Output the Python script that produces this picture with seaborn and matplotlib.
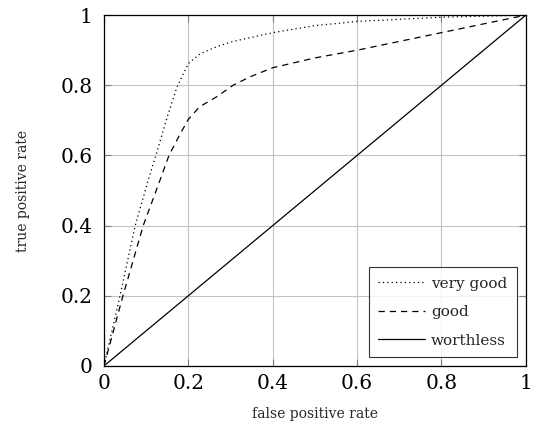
import matplotlib
matplotlib.use("Agg")
import matplotlib.pyplot as plt
import seaborn as sns
import pandas as pd

sns.set_theme(style="white")
plt.rcParams['font.family'] = ['DejaVu Serif']

vg_fpr = [0, 0.038, 0.074, 0.105, 0.123, 0.15, 0.173, 0.2, 0.227, 0.267, 0.306, 0.4, 0.5, 0.6, 0.8, 1.0]
vg_tpr = [0, 0.2, 0.4, 0.53, 0.6, 0.71, 0.795, 0.862, 0.889, 0.91, 0.925, 0.95, 0.97, 0.982, 0.994, 1.0]
good_fpr = [0, 0.045, 0.093, 0.133, 0.154, 0.18, 0.2, 0.227, 0.267, 0.306, 0.346, 0.4, 0.5, 0.6, 0.8, 1.0]
good_tpr = [0, 0.2, 0.4, 0.53, 0.6, 0.66, 0.703, 0.739, 0.767, 0.8, 0.824, 0.85, 0.878, 0.9, 0.95, 1.0]
worth_fpr = [0, 1.0]
worth_tpr = [0, 1.0]
ticks = [0, 0.2, 0.4, 0.6, 0.8, 1]
tick_labels = ["0", "0.2", "0.4", "0.6", "0.8", "1"]

fig = plt.figure(figsize=(5.36, 4.32), dpi=100)
ax = fig.add_axes([0.194, 0.153, 0.787, 0.812])

sns.lineplot(x=vg_fpr, y=vg_tpr, ax=ax, color="black", lw=0.9, linestyle=(0, (1, 2.5)),
             label="very good", sort=False, estimator=None)
sns.lineplot(x=good_fpr, y=good_tpr, ax=ax, color="black", lw=0.9, linestyle=(0, (5, 4)),
             label="good", sort=False, estimator=None)
sns.lineplot(x=worth_fpr, y=worth_tpr, ax=ax, color="black", lw=0.9, linestyle="-",
             label="worthless", sort=False, estimator=None)

ax.set_xlim(0, 1)
ax.set_ylim(0, 1)
ax.set_xticks(ticks)
ax.set_yticks(ticks)
ax.set_xticklabels(tick_labels, fontsize=14.5, color="black")
ax.set_yticklabels(tick_labels, fontsize=14.5, color="black")
ax.grid(True, color="#c4c4c4", lw=0.8)
ax.set_axisbelow(True)
ax.tick_params(axis="both", which="both", direction="in", length=5, width=0.8,
               color="#808080", top=True, right=True, bottom=True, left=True)
ax.tick_params(axis="x", pad=6)
ax.tick_params(axis="y", pad=8)
for s in ax.spines.values():
    s.set_color("black")
    s.set_linewidth(0.9)
ax.set_xlabel("false positive rate", fontsize=10, labelpad=10)
ax.set_ylabel("true positive rate", fontsize=10, labelpad=22)

leg = ax.legend(loc="lower right", fontsize=11, frameon=True, fancybox=False,
                edgecolor="black", handlelength=3.1, borderpad=0.6, labelspacing=0.95,
                handletextpad=0.4, borderaxespad=0.6)
leg.get_frame().set_linewidth(0.8)

fig.savefig("out.png", dpi=100)
